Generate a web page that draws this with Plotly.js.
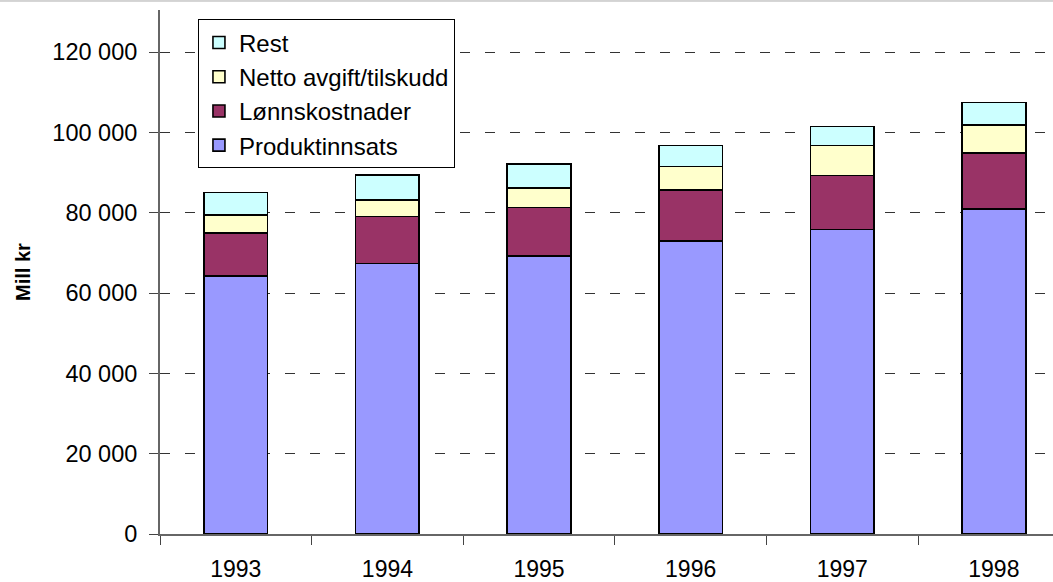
<!DOCTYPE html>
<html>
<head>
<meta charset="utf-8">
<script src="https://cdn.plot.ly/plotly-3.0.1.min.js"></script>
<style>
  html, body { margin: 0; padding: 0; background: #fff; }
  #chart { width: 1053px; height: 582px; }
</style>
</head>
<body>
<div id="chart"></div>
<script>
// Data (Mill kr)
const years = ['1993', '1994', '1995', '1996', '1997', '1998'];
const produktinnsats = [64200, 67400, 69200, 73000, 75800, 81000];
const lonnskostnader = [10700, 11700, 12100, 12600, 13500, 13900];
const nettoAvgift = [4600, 4100, 4800, 5900, 7500, 7000];
const rest = [5600, 6200, 6000, 5300, 4700, 5600];

const seriesNames = ['Produktinnsats', 'Lønnskostnader', 'Netto avgift/tilskudd', 'Rest'];
const seriesValues = [produktinnsats, lonnskostnader, nettoAvgift, rest];
const seriesColors = ['#9999FF', '#993366', '#FFFFCC', '#CCFFFF'];

const FONT = 'Liberation Sans, Arial, sans-serif';

const traces = seriesNames.map((name, i) => ({
  type: 'bar',
  name: name,
  x: years,
  y: seriesValues[i],
  width: 0.42,
  legendgroup: 'g' + i,
  marker: { color: seriesColors[i], line: { color: '#000000', width: 1.6 } },
  hoverinfo: 'x+y+name'
}));

const layout = {
  width: 1053,
  height: 582,
  margin: { l: 160, r: 0, t: 10, b: 48, pad: 0 },
  paper_bgcolor: '#ffffff',
  plot_bgcolor: '#ffffff',
  barmode: 'stack',
  separators: ', ',
  font: { family: FONT, size: 23, color: '#000000' },
  showlegend: true,
  legend: {
    x: 0.0425, xanchor: 'left',
    y: 0.982, yanchor: 'top',
    bgcolor: '#ffffff',
    bordercolor: '#000000',
    borderwidth: 1,
    traceorder: 'reversed',
    tracegroupgap: 1,
    itemwidth: 30,
    font: { family: FONT, size: 24, color: '#000000' }
  },
  xaxis: {
    type: 'category',
    range: [-0.5, 5.39],
    showgrid: false,
    zeroline: false,
    showline: true,
    linecolor: '#666666',
    linewidth: 2,
    ticks: 'outside',
    tickson: 'boundaries',
    ticklen: 9,
    tickcolor: '#444444',
    tickwidth: 1,
    ticklabelstandoff: 13,
    tickfont: { family: FONT, size: 23, color: '#000000' },
    fixedrange: true
  },
  yaxis: {
    range: [0, 130500],
    tickvals: [0, 20000, 40000, 60000, 80000, 100000, 120000],
    tickformat: ',d',
    showgrid: true,
    gridcolor: '#333333',
    gridwidth: 1,
    griddash: '10px,15px',
    zeroline: false,
    showline: true,
    linecolor: '#666666',
    linewidth: 2,
    ticks: 'outside',
    ticklen: 9,
    tickcolor: '#444444',
    tickwidth: 1,
    ticklabelstandoff: 7,
    tickfont: { family: FONT, size: 23.5, color: '#000000' },
    title: {
      text: '<b>Mill kr</b>',
      font: { family: FONT, size: 20, color: '#000000' },
      standoff: 16
    },
    fixedrange: true
  },
  shapes: [
    { type: 'line', xref: 'paper', yref: 'paper', x0: -0.18, x1: 1, y0: 1.0172, y1: 1.0172,
      line: { color: '#aaaaaa', width: 1 } }
  ]
};

Plotly.newPlot('chart', traces, layout, { displayModeBar: false, staticPlot: true });
</script>
</body>
</html>
